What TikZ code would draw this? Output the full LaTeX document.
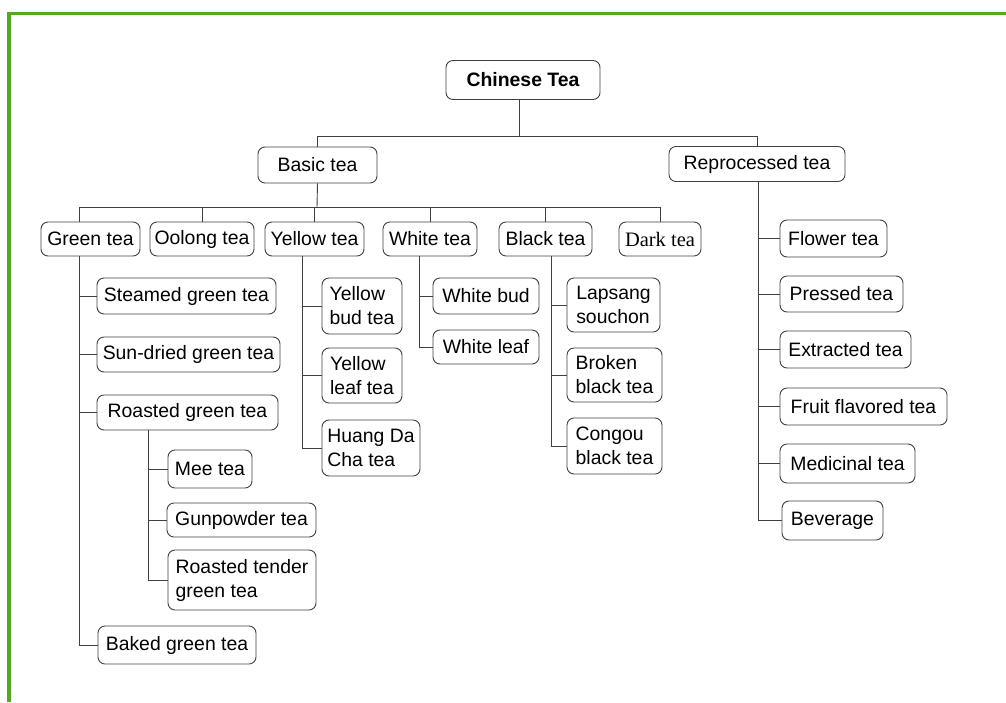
\documentclass[tikz,border=0pt]{standalone}
\usepackage{fontspec}
\setmainfont{Liberation Sans}
\newfontfamily\serifname{Liberation Serif}
\definecolor{frame}{HTML}{55A820}
\definecolor{boxline}{HTML}{404040}
\definecolor{wire}{HTML}{404040}
\begin{document}
\begin{tikzpicture}[x=1pt,y=-1pt,
  box/.style={draw=boxline,line width=0.9pt,rounded corners=7pt,inner sep=2pt,
    align=left,font=\fontsize{19.4}{24}\selectfont},
  wirestyle/.style={draw=wire,line width=0.9pt}]
\useasboundingbox (0,0) rectangle (1006,702);
% outer frame (top and left edges)
\draw[frame,line width=3.6pt] (9,702) -- (9,13.5) -- (1006,13.5);

% root and first level
\node[box,minimum width=154pt,minimum height=39pt,font=\fontsize{19.4}{24}\selectfont\bfseries] (ct) at (523,80) {Chinese Tea};
\node[box,minimum width=119pt,minimum height=36pt] (basic) at (317.5,165) {Basic tea};
\node[box,minimum width=176pt,minimum height=35pt] (repro) at (757,164) {Reprocessed tea};

% basic tea families
\node[box,minimum width=99pt,minimum height=34pt] (green) at (90.5,239) {Green tea};
\node[box,minimum width=104pt,minimum height=34pt] (oolong) at (202,239) {Oolong tea};
\node[box,minimum width=99pt,minimum height=34pt] (yellow) at (314.5,239) {Yellow tea};
\node[box,minimum width=94pt,minimum height=34pt] (white) at (430,239) {White tea};
\node[box,minimum width=93pt,minimum height=34pt] (black) at (545.5,239) {Black tea};
\node[box,minimum width=82pt,minimum height=34pt,font=\fontsize{20.5}{24}\serifname] (dark) at (660,239) {Dark tea};

% green tea
\node[box,minimum width=179pt,minimum height=36pt] (steamed) at (186.5,296) {Steamed green tea};
\node[box,minimum width=183pt,minimum height=35pt] (sundried) at (188.5,354.5) {Sun-dried green tea};
\node[box,minimum width=181pt,minimum height=35pt] (roasted) at (187.5,412.5) {Roasted green tea};
\node[box,minimum width=158pt,minimum height=38pt] (baked) at (177,645) {Baked green tea};
\node[box,minimum width=84pt,minimum height=38pt] (mee) at (210,469) {Mee tea};
\node[box,minimum width=149pt,minimum height=34pt] (gunpowder) at (241.5,520) {Gunpowder tea};
\node[box,minimum width=148pt,minimum height=60pt] (tender) at (242,580) {Roasted tender\\green tea};

% yellow tea
\node[box,minimum width=80pt,minimum height=56pt] (ybud) at (362,306) {Yellow\\bud tea};
\node[box,minimum width=80pt,minimum height=55pt] (yleaf) at (362,375.5) {Yellow\\leaf tea};
\node[box,minimum width=98pt,minimum height=56pt] (huang) at (371,448) {Huang Da\\Cha tea};

% white tea
\node[box,minimum width=106pt,minimum height=36pt] (wbud) at (486,296) {White bud};
\node[box,minimum width=106pt,minimum height=34pt] (wleaf) at (486,347) {White leaf};

% black tea
\node[box,minimum width=93pt,minimum height=54pt] (lapsang) at (613.5,305) {Lapsang\\souchon};
\node[box,minimum width=95pt,minimum height=54pt] (broken) at (614.5,375) {Broken\\black tea};
\node[box,minimum width=95pt,minimum height=56pt] (congou) at (614.5,446) {Congou\\black tea};

% reprocessed tea
\node[box,minimum width=107pt,minimum height=37pt] (flower) at (833.5,238.5) {Flower tea};
\node[box,minimum width=123pt,minimum height=36pt] (pressed) at (841.5,294) {Pressed tea};
\node[box,minimum width=131pt,minimum height=37pt] (extracted) at (845.5,349.5) {Extracted tea};
\node[box,minimum width=167pt,minimum height=37pt] (fruit) at (863.5,406.5) {Fruit flavored tea};
\node[box,minimum width=135pt,minimum height=39pt] (medicinal) at (847.5,463.5) {Medicinal tea};
\node[box,minimum width=101pt,minimum height=39pt] (beverage) at (832.5,520.5) {Beverage};

% bus lines and trunk positions
\coordinate (bus1) at (519,136);
\coordinate (bus2) at (317,207);
\coordinate (gv) at (79,0);
\coordinate (rv) at (148,0);
\coordinate (yv) at (302,0);
\coordinate (wv) at (419,0);
\coordinate (bv) at (551,0);
\coordinate (pv) at (758,0);

% root to first level
\draw[wirestyle] (bus1 |- ct.south) -- (bus1);
\draw[wirestyle] (basic.north) -- (basic.north |- bus1) -| (repro.north);

% basic tea to families
\draw[wirestyle] (basic.south) -- (bus2);
\draw[wirestyle] (green.north -| gv) -- (gv |- bus2) -| (dark.north);
\foreach \n in {oolong,yellow,white,black}
  \draw[wirestyle] (\n.north) -- (\n.north |- bus2);

% green tea branch
\draw[wirestyle] (gv |- green.south) |- (baked.west);
\foreach \n in {steamed,sundried,roasted}
  \draw[wirestyle] (gv |- \n.west) -- (\n.west);
\draw[wirestyle] (rv |- roasted.south) |- (tender.west);
\foreach \n in {mee,gunpowder}
  \draw[wirestyle] (rv |- \n.west) -- (\n.west);

% yellow tea branch
\draw[wirestyle] (yv |- yellow.south) |- (huang.west);
\foreach \n in {ybud,yleaf}
  \draw[wirestyle] (yv |- \n.west) -- (\n.west);

% white tea branch
\draw[wirestyle] (wv |- white.south) |- (wleaf.west);
\draw[wirestyle] (wv |- wbud.west) -- (wbud.west);

% black tea branch
\draw[wirestyle] (bv |- black.south) |- (congou.west);
\foreach \n in {lapsang,broken}
  \draw[wirestyle] (bv |- \n.west) -- (\n.west);

% reprocessed tea branch
\draw[wirestyle] (pv |- repro.south) |- (beverage.west);
\foreach \n in {flower,pressed,extracted,fruit,medicinal}
  \draw[wirestyle] (pv |- \n.west) -- (\n.west);
\end{tikzpicture}
\end{document}
